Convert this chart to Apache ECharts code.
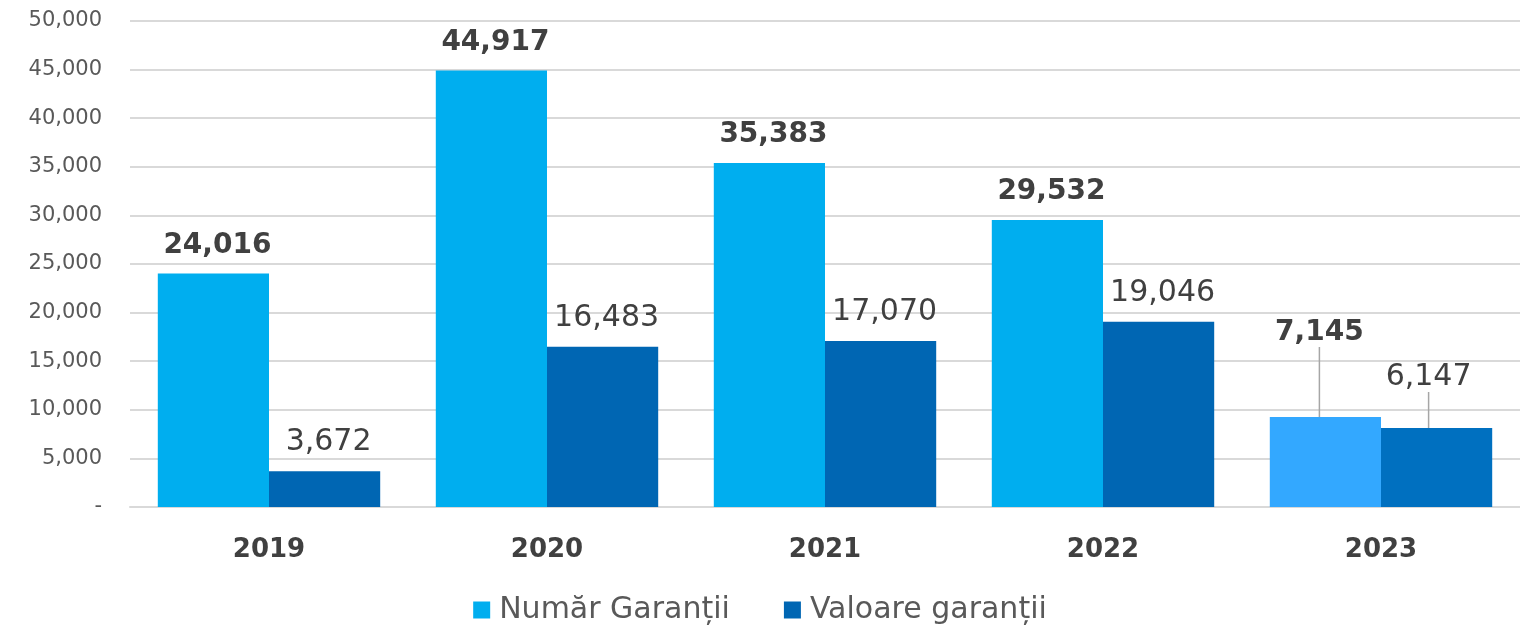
<!DOCTYPE html>
<html><head><meta charset="utf-8">
<script src="https://cdn.jsdelivr.net/npm/echarts@6/dist/echarts.min.js"></script>
<style>html,body{margin:0;padding:0;background:#fff}#c{width:1520px;height:628px}</style>
</head><body><div id="c"></div>
<script>
var categories = ['2019','2020','2021','2022','2023'];
var numarValues = [24016, 44917, 35383, 29532, 9260];
var valoareValues = [3672, 16483, 17070, 19046, 8130];
var numarLabels = ['24,016','44,917','35,383','29,532','7,145'];
var valoareLabels = ['3,672','16,483','17,070','19,046','6,147'];
var yTicks = [0, 5000, 10000, 15000, 20000, 25000, 30000, 35000, 40000, 45000, 50000];

var FONT = 'DejaVu Sans';
var chart = echarts.init(document.getElementById('c'));
function fmtTick(v){ return v === 0 ? '-' : v.toLocaleString('en-US'); }

chart.setOption({
  animation: false,
  grid: {left: 130, right: 0, top: 21, bottom: 121, containLabel: false},
  legend: {
    bottom: -2, left: 'center', itemWidth: 17, itemHeight: 17, itemGap: 54, icon: 'rect',
    textStyle: {fontFamily: FONT, fontSize: 30, color: '#595959', padding: [0, 0, 0, 4]},
    data: ['Număr Garanții', 'Valoare garanții']
  },
  xAxis: {
    type: 'category', data: categories,
    axisLine: {lineStyle: {color: '#d9d9d9', width: 2}},
    axisTick: {show: false},
    axisLabel: {fontFamily: FONT, fontSize: 26, fontWeight: 'bold', color: '#404040', margin: 30}
  },
  yAxis: {
    type: 'value', min: 0, max: 50000, interval: 5000,
    axisLine: {show: false}, axisTick: {show: false},
    splitLine: {lineStyle: {color: '#d9d9d9', width: 2}},
    axisLabel: {fontFamily: FONT, fontSize: 21, color: '#595959', margin: 28,
      formatter: function(v){ return yTicks.indexOf(v) >= 0 ? fmtTick(v) : ''; }}
  },
  series: [
    {
      name: 'Număr Garanții', type: 'bar', barGap: '0%', barCategoryGap: '20%',
      itemStyle: {color: '#00AEEF'},
      data: numarValues.map(function(v, i){
        return i === 4 ? {value: v, itemStyle: {color: '#33A8FF'}, labelLine: {show: true}} : v;
      }),
      label: {show: true, position: 'top', distance: 14, fontFamily: FONT, fontSize: 28, fontWeight: 'bold', color: '#404040',
        formatter: function(p){ return numarLabels[p.dataIndex]; }},
      labelLine: {show: false, lineStyle: {color: '#a6a6a6', width: 1.5}},
      labelLayout: function(p){ return p.dataIndex === 4 ? {dx: -6, dy: -56} : {dx: 4}; }
    },
    {
      name: 'Valoare garanții', type: 'bar',
      itemStyle: {color: '#0066B3'},
      data: valoareValues.map(function(v, i){
        return i === 4 ? {value: v, itemStyle: {color: '#0070C0'}, labelLine: {show: true}} : v;
      }),
      label: {show: true, position: 'top', distance: 14, fontFamily: FONT, fontSize: 30, color: '#404040',
        formatter: function(p){ return valoareLabels[p.dataIndex]; }},
      labelLine: {show: false, lineStyle: {color: '#a6a6a6', width: 1.5}},
      labelLayout: function(p){ return p.dataIndex === 4 ? {dx: -8, dy: -22} : {dx: 4}; }
    }
  ]
});
</script></body></html>
